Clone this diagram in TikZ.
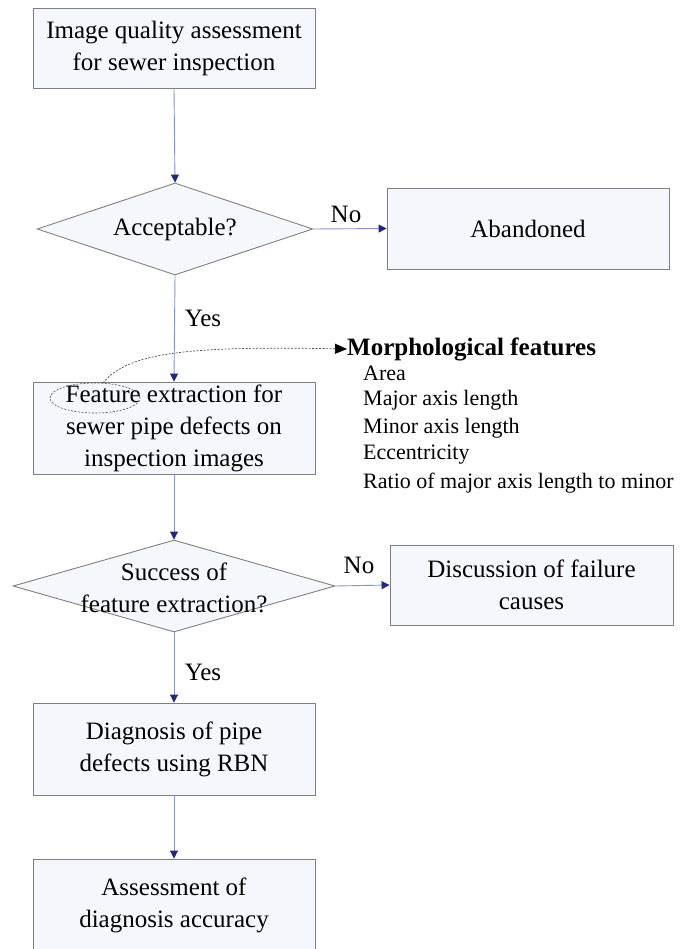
\documentclass[tikz,border=0pt]{standalone}
\usepackage{fontspec}
\setmainfont{Liberation Serif}
\usetikzlibrary{shapes.geometric,arrows.meta}
\definecolor{boxfill}{HTML}{F4F8FC}
\definecolor{boxline}{HTML}{7F7F7F}
\definecolor{conline}{HTML}{8A92C8}
\definecolor{conhead}{HTML}{1E2A7A}
\tikzset{
  flowbox/.style={draw=boxline, fill=boxfill, line width=0.9pt, minimum width=282pt, inner sep=0pt, align=center, font=\fontsize{25}{32}\selectfont},
  decision/.style={draw=boxline, fill=boxfill, line width=0.9pt, diamond, inner sep=0pt, minimum height=92pt},
  dtext/.style={align=center, font=\fontsize{25}{32}\selectfont},
  lab/.style={font=\fontsize{25}{30}\selectfont, inner sep=0pt},
  flow/.style={draw=conline, line width=0.9pt, -{Triangle[width=8pt,length=8pt,color=conhead]}},
  feat/.style={anchor=west, inner sep=0pt, font=\fontsize{22}{26}\selectfont}
}
\begin{document}
\begin{tikzpicture}[x=1pt,y=-1pt]
\useasboundingbox (0,0) rectangle (681,949);
% boxes
\node[flowbox, minimum height=80pt] (iqa) at (174,48) {Image quality assessment\\for sewer inspection};
\node[decision, minimum width=276pt] (acc) at (175,229) {};
\node[dtext] (acct) at (175,229) {Acceptable?};
\node[flowbox, minimum height=81pt] (aband) at (528,228.5) {Abandoned};
\node[flowbox, minimum height=92pt] (fex) at (174,428) {Feature extraction for\\sewer pipe defects on\\inspection images};
\node[decision, minimum width=322pt] (suc) at (174,586) {};
\node[dtext] (suct) at (174,588) {Success of\\feature extraction?};
\node[flowbox, minimum height=80pt, minimum width=283pt] (disc) at (531.5,585) {Discussion of failure\\causes};
\node[flowbox, minimum height=92pt] (diag) at (174,749) {Diagnosis of pipe\\defects using RBN};
\node[flowbox, minimum height=92pt] (asse) at (174,905) {Assessment of\\diagnosis accuracy};
% connectors
\draw[flow] (iqa.south) -- (acc.north);
\draw[flow] (acc.east) -- (aband.west);
\draw[flow] (acc.south) -- (fex.north);
\draw[flow] (fex.south) -- (suc.north);
\draw[flow] (suc.east) -- (disc.west);
\draw[flow] (suc.south) -- (diag.north);
\draw[flow] (diag.south) -- (asse.north);
% labels
\node[lab] (no1) at (346,214) {No};
\node[lab] (yes1) at (203,318) {Yes};
\node[lab] (no2) at (359,565) {No};
\node[lab] (yes2) at (203,672) {Yes};
% morphological features
\node[ellipse, draw=black!70, dash pattern=on 2pt off 1.5pt, line width=0.6pt, minimum width=90pt, minimum height=30pt, inner sep=0pt] (fe) at (95,398) {};
\node[anchor=west, inner sep=0pt, font=\fontsize{25}{30}\selectfont\bfseries] (morph) at (347,349) {Morphological features};
\draw[black!70, dash pattern=on 2pt off 1.5pt, line width=0.7pt, -{Triangle[width=10pt,length=12pt,color=black]}] (fe.62) .. controls (128,352) and (190,346) .. (morph.west);
\node[feat] (f1) at (363,373) {Area};
\node[feat] (f2) at (363,400) {Major axis length};
\node[feat] (f3) at (363,428) {Minor axis length};
\node[feat] (f4) at (363,455) {Eccentricity};
\node[feat] (f5) at (363,483) {Ratio of major axis length to minor};
\end{tikzpicture}
\end{document}
